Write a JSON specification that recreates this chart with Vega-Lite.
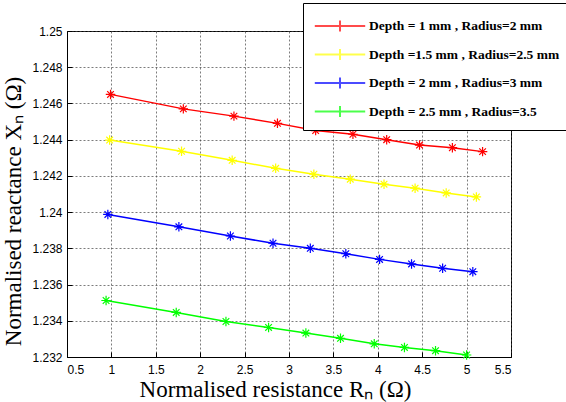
{
  "$schema": "https://vega.github.io/schema/vega-lite/v6.json",
  "width": 444,
  "height": 326,
  "autosize": {"type": "none"},
  "padding": {"left": 67, "top": 31, "right": 55, "bottom": 45},
  "background": "white",
  "config": {
    "view": {"stroke": "black", "strokeWidth": 1},
    "axis": {
      "labelFont": "Liberation Sans",
      "labelFontSize": 12,
      "labelColor": "black",
      "titleFont": "Liberation Serif",
      "titleFontSize": 23,
      "titleFontWeight": "normal",
      "titleColor": "black",
      "gridColor": "#444",
      "gridDash": [2, 2],
      "gridOpacity": 0.7,
      "domainColor": "black",
      "tickColor": "black",
      "ticks": true,
      "tickSize": -5
    }
  },
  "data": {
    "values": [
      {"series": "Depth = 1 mm , Radius=2 mm", "R": 0.99, "X": 1.2465},
      {"series": "Depth = 1 mm , Radius=2 mm", "R": 1.81, "X": 1.2457},
      {"series": "Depth = 1 mm , Radius=2 mm", "R": 2.38, "X": 1.2453},
      {"series": "Depth = 1 mm , Radius=2 mm", "R": 2.87, "X": 1.2449},
      {"series": "Depth = 1 mm , Radius=2 mm", "R": 3.30, "X": 1.2445},
      {"series": "Depth = 1 mm , Radius=2 mm", "R": 3.72, "X": 1.2443},
      {"series": "Depth = 1 mm , Radius=2 mm", "R": 4.10, "X": 1.2440},
      {"series": "Depth = 1 mm , Radius=2 mm", "R": 4.47, "X": 1.2437},
      {"series": "Depth = 1 mm , Radius=2 mm", "R": 4.84, "X": 1.24356},
      {"series": "Depth = 1 mm , Radius=2 mm", "R": 5.18, "X": 1.24334},
      {"series": "Depth =1.5 mm , Radius=2.5 mm", "R": 0.98, "X": 1.24398},
      {"series": "Depth =1.5 mm , Radius=2.5 mm", "R": 1.79, "X": 1.24336},
      {"series": "Depth =1.5 mm , Radius=2.5 mm", "R": 2.36, "X": 1.24286},
      {"series": "Depth =1.5 mm , Radius=2.5 mm", "R": 2.85, "X": 1.24242},
      {"series": "Depth =1.5 mm , Radius=2.5 mm", "R": 3.28, "X": 1.24209},
      {"series": "Depth =1.5 mm , Radius=2.5 mm", "R": 3.69, "X": 1.24182},
      {"series": "Depth =1.5 mm , Radius=2.5 mm", "R": 4.07, "X": 1.24154},
      {"series": "Depth =1.5 mm , Radius=2.5 mm", "R": 4.42, "X": 1.24132},
      {"series": "Depth =1.5 mm , Radius=2.5 mm", "R": 4.77, "X": 1.24106},
      {"series": "Depth =1.5 mm , Radius=2.5 mm", "R": 5.11, "X": 1.24084},
      {"series": "Depth = 2 mm , Radius=3 mm", "R": 0.96, "X": 1.23987},
      {"series": "Depth = 2 mm , Radius=3 mm", "R": 1.76, "X": 1.23919},
      {"series": "Depth = 2 mm , Radius=3 mm", "R": 2.34, "X": 1.23868},
      {"series": "Depth = 2 mm , Radius=3 mm", "R": 2.82, "X": 1.23828},
      {"series": "Depth = 2 mm , Radius=3 mm", "R": 3.24, "X": 1.23800},
      {"series": "Depth = 2 mm , Radius=3 mm", "R": 3.64, "X": 1.23770},
      {"series": "Depth = 2 mm , Radius=3 mm", "R": 4.02, "X": 1.23739},
      {"series": "Depth = 2 mm , Radius=3 mm", "R": 4.38, "X": 1.23714},
      {"series": "Depth = 2 mm , Radius=3 mm", "R": 4.73, "X": 1.23690},
      {"series": "Depth = 2 mm , Radius=3 mm", "R": 5.07, "X": 1.23671},
      {"series": "Depth = 2.5 mm , Radius=3.5", "R": 0.94, "X": 1.23512},
      {"series": "Depth = 2.5 mm , Radius=3.5", "R": 1.73, "X": 1.23446},
      {"series": "Depth = 2.5 mm , Radius=3.5", "R": 2.29, "X": 1.23396},
      {"series": "Depth = 2.5 mm , Radius=3.5", "R": 2.77, "X": 1.23363},
      {"series": "Depth = 2.5 mm , Radius=3.5", "R": 3.19, "X": 1.23332},
      {"series": "Depth = 2.5 mm , Radius=3.5", "R": 3.58, "X": 1.23303},
      {"series": "Depth = 2.5 mm , Radius=3.5", "R": 3.96, "X": 1.23273},
      {"series": "Depth = 2.5 mm , Radius=3.5", "R": 4.30, "X": 1.23253},
      {"series": "Depth = 2.5 mm , Radius=3.5", "R": 4.65, "X": 1.23235},
      {"series": "Depth = 2.5 mm , Radius=3.5", "R": 5.00, "X": 1.23211}
    ]
  },
  "encoding": {
    "x": {
      "field": "R", "type": "quantitative",
      "scale": {"domain": [0.5, 5.5], "nice": false, "zero": false},
      "axis": {"values": [0.5,1,1.5,2,2.5,3,3.5,4,4.5,5,5.5], "format": "~g", "labelPadding": 12, "title": "Normalised resistance Rₙ (Ω)", "titlePadding": 3, "titleX": 208}
    },
    "y": {
      "field": "X", "type": "quantitative",
      "scale": {"domain": [1.232, 1.25], "nice": false, "zero": false},
      "axis": {"values": [1.232,1.234,1.236,1.238,1.24,1.242,1.244,1.246,1.248,1.25], "format": ".3~f", "labelPadding": 10, "title": "Normalised reactance Xₙ (Ω)", "titlePadding": 6, "titleY": 180}
    },
    "color": {
      "field": "series", "type": "nominal",
      "scale": {
        "domain": ["Depth = 1 mm , Radius=2 mm", "Depth =1.5 mm , Radius=2.5 mm", "Depth = 2 mm , Radius=3 mm", "Depth = 2.5 mm , Radius=3.5"],
        "range": ["#ff0000", "#ffff00", "#0000ff", "#00ff00"]
      }
    }
  },
  "layer": [
    {
      "mark": {"type": "line", "strokeWidth": 1.5},
      "encoding": {
        "color": {
          "field": "series", "type": "nominal",
          "legend": {
            "title": null,
            "orient": "none",
            "legendX": 236,
            "legendY": -28,
            "direction": "vertical",
            "fillColor": "white",
            "strokeColor": "black",
            "padding": 8,
            "labelFont": "Liberation Serif",
            "labelFontWeight": "bold",
            "labelFontSize": 13.5,
            "labelColor": "black",
            "labelLimit": 300,
            "rowPadding": 3.5,
            "symbolType": "M-1.8,0L1.8,0M0,-0.4L0,0.4",
            "symbolSize": 784,
            "symbolStrokeWidth": 2,
            "symbolOpacity": 0.7,
            "symbolOffset": 14,
            "labelOffset": 14
          }
        }
      }
    },
    {
      "mark": {"type": "point", "filled": false, "strokeWidth": 1.2, "opacity": 1, "shape": "M-1,0L1,0M0,-1L0,1M-0.7,-0.7L0.7,0.7M-0.7,0.7L0.7,-0.7", "size": 90},
      "encoding": {
        "color": {"field": "series", "type": "nominal", "legend": null}
      }
    }
  ]
}
